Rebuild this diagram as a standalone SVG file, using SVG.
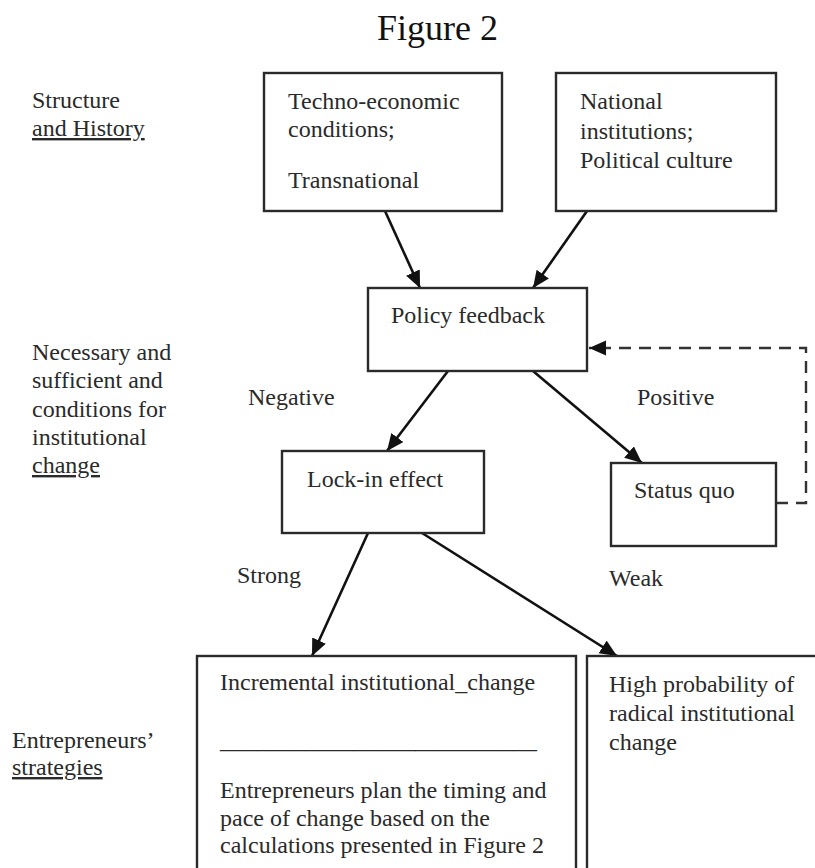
<svg xmlns="http://www.w3.org/2000/svg" width="815" height="868" viewBox="0 0 815 868">
<style>
text{font-family:"Liberation Serif","Times New Roman",serif;font-size:24px;fill:#2a2a2a}
.title{font-size:36px;fill:#111}
.u{text-decoration:underline}
.box{fill:#fff;stroke:#2a2a2a;stroke-width:2.4}
.conn line,.conn path{stroke:#111;stroke-width:2.6;fill:none}
.conn .dash{stroke:#333;stroke-width:2.4;stroke-dasharray:12 8}
</style>
<defs>
<marker id="ah" markerUnits="userSpaceOnUse" markerWidth="18" markerHeight="16" refX="17" refY="7.5" orient="auto">
<path d="M0,0 L17,7.5 L0,15 z" fill="#111"/>
</marker>
</defs>
<rect width="815" height="868" fill="#fff"/>
<text class="title" x="377" y="40">Figure 2</text>
<g id="side-labels">
<text x="32" y="108">Structure</text>
<text class="u" x="32" y="136">and History</text>
<text x="32" y="360">Necessary and</text>
<text x="32" y="388">sufficient and</text>
<text x="32" y="417">conditions for</text>
<text x="32" y="445">institutional</text>
<text class="u" x="32" y="473">change</text>
<text x="12" y="748">Entrepreneurs’</text>
<text class="u" x="12" y="775">strategies</text>
</g>
<g class="conn" id="connectors">
<line x1="385" y1="211" x2="420" y2="288" marker-end="url(#ah)"/>
<line x1="587" y1="211" x2="533" y2="288" marker-end="url(#ah)"/>
<line x1="448" y1="371" x2="387" y2="451" marker-end="url(#ah)"/>
<line x1="533" y1="371" x2="642" y2="463" marker-end="url(#ah)"/>
<line x1="368" y1="533" x2="312" y2="656" marker-end="url(#ah)"/>
<line x1="422" y1="533" x2="617" y2="656" marker-end="url(#ah)"/>
<path class="dash" d="M776,503 H806 V348 H589" marker-end="url(#ah)"/>
</g>
<g id="edge-labels">
<text x="248" y="405">Negative</text>
<text x="637" y="405">Positive</text>
<text x="237" y="583">Strong</text>
<text x="609" y="586">Weak</text>
</g>
<g id="techno">
<rect class="box" x="264" y="73" width="238" height="138"/>
<text x="288" y="109">Techno-economic</text>
<text x="288" y="137">conditions;</text>
<text x="288" y="188">Transnational</text>
</g>
<g id="national">
<rect class="box" x="556" y="73" width="220" height="138"/>
<text x="580" y="109">National</text>
<text x="580" y="139">institutions;</text>
<text x="580" y="168">Political culture</text>
</g>
<g id="policy">
<rect class="box" x="368" y="288" width="219" height="83"/>
<text x="391" y="323">Policy feedback</text>
</g>
<g id="lockin">
<rect class="box" x="282" y="451" width="202" height="82"/>
<text x="307" y="487">Lock-in effect</text>
</g>
<g id="statusquo">
<rect class="box" x="611" y="463" width="165" height="83"/>
<text x="634" y="498">Status quo</text>
</g>
<g id="incremental">
<rect class="box" x="197" y="656" width="379" height="240"/>
<text x="220" y="690">Incremental institutional_change</text>
<text x="220" y="748" textLength="317" lengthAdjust="spacingAndGlyphs">__________________________</text>
<text x="220" y="798">Entrepreneurs plan the timing and</text>
<text x="220" y="826">pace of change based on the</text>
<text x="220" y="853">calculations presented in Figure 2</text>
</g>
<g id="radical">
<rect class="box" x="587" y="656" width="260" height="240"/>
<text x="609" y="692">High probability of</text>
<text x="609" y="721">radical institutional</text>
<text x="609" y="750">change</text>
</g>
</svg>
